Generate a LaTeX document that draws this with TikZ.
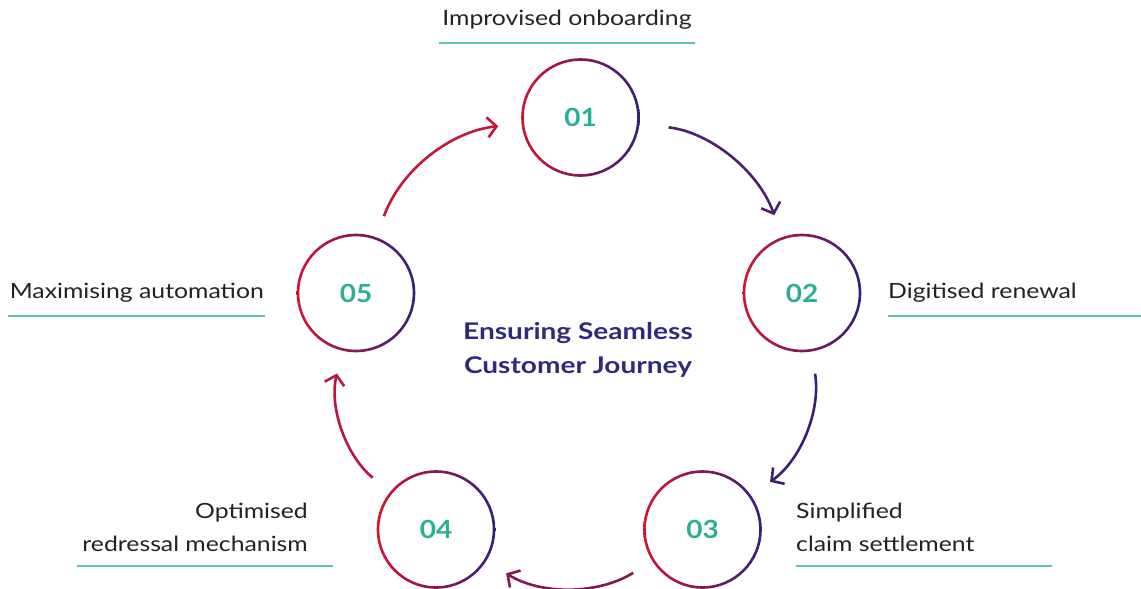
\documentclass[tikz,border=0pt]{standalone}
\usepackage{fontspec}
\setmainfont{Lato}
\newfontfamily\lblfont[FakeStretch=1.18]{Lato}
\newfontfamily\ttlfont[FakeStretch=1.22]{Lato}
\newfontfamily\numfont[FakeStretch=1.12]{Lato}
\usetikzlibrary{arrows.meta}
\definecolor{ringred}{HTML}{D3142E}
\definecolor{ringpurple}{HTML}{33207A}
\definecolor{numteal}{HTML}{2BAE98}
\definecolor{linecol}{HTML}{5CC4B3}
\definecolor{titlecol}{HTML}{2E2A7E}
\definecolor{labelcol}{HTML}{222222}
\definecolor{arrA}{HTML}{4B1E6E}
\definecolor{arrB}{HTML}{3A1F74}
\definecolor{arrC}{HTML}{7E1A55}
\definecolor{arrD}{HTML}{B8173E}
\definecolor{arrE}{HTML}{C4173A}
\begin{document}
\begin{tikzpicture}[x=1pt,y=-1pt,
  stage/.style={circle, minimum size=115pt, inner sep=0pt,
    font=\numfont\fontsize{25}{25}\selectfont\bfseries, text=numteal},
  lbl/.style={inner sep=0pt, font=\lblfont\fontsize{21}{25}\selectfont, text=labelcol},
  ttl/.style={inner sep=0pt, font=\ttlfont\fontsize{23}{27}\selectfont\bfseries, text=titlecol},
  uline/.style={draw=linecol, line width=2pt},
  flow/.style={line width=2.6pt, -{Straight Barb[length=9pt,width=20pt]},
    shorten <=24pt, shorten >=25pt},
]
\useasboundingbox (0,0) rectangle (1141,589);

% stages
\node[stage] (n1) at (580.5,117.5) {01};
\node[stage] (n2) at (802,293) {02};
\node[stage] (n3) at (702.5,529.5) {03};
\node[stage] (n4) at (436,529.5) {04};
\node[stage] (n5) at (356,293) {05};

% gradient rings
\foreach \n in {n1,n2,n3,n4,n5}{
  \shade[left color=ringred, right color=ringpurple, even odd rule]
    (\n) circle[radius=59.3pt] (\n) circle[radius=56.7pt];
}

% connectors
\draw[flow, draw=arrA, shorten <=31pt] (n1) to[bend left=32] (n2);
\draw[flow, draw=arrB] (n2) to[bend left=32] (n3);
\draw[flow, draw=arrC] (n3) to[bend left=32] (n4);
\draw[flow, draw=arrD] (n4) to[bend left=32] (n5);
\draw[flow, draw=arrE] (n5) to[bend left=32] (n1);

% title
\node[ttl, anchor=base] (title1) at (578,339) {Ensuring Seamless};
\node[ttl, anchor=base] (title2) at (578,373) {Customer Journey};

% labels
\node[lbl, anchor=base] (t1) at (567,25) {Improvised onboarding};
\draw[uline] (439,43) -- (695,43);

\node[lbl, anchor=base west] (t2) at (888,298) {Digitised renewal};
\draw[uline] (888,316) -- (1141,316);

\node[lbl, anchor=base west] (t3a) at (796,518) {Simplified};
\node[lbl, anchor=base west] (t3b) at (796,551) {claim settlement};
\draw[uline] (796,566) -- (1052,566);

\node[lbl, anchor=base east] (t4a) at (308,518) {Optimised};
\node[lbl, anchor=base east] (t4b) at (308,551) {redressal mechanism};
\draw[uline] (77,566) -- (333,566);

\node[lbl, anchor=base east] (t5) at (264,298) {Maximising automation};
\draw[uline] (8,316) -- (265,316);
\end{tikzpicture}
\end{document}
